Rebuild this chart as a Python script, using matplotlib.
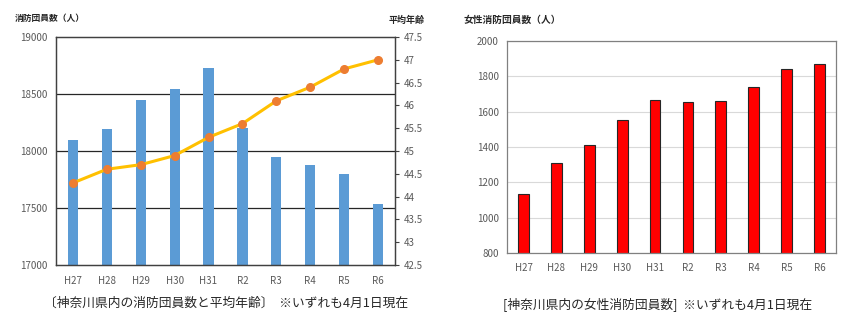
import matplotlib
matplotlib.use("Agg")
import numpy as np
import matplotlib.pyplot as plt

plt.rcParams['font.family'] = ['Noto Sans CJK JP', 'DejaVu Sans']

# %% Data
years = ['H27', 'H28', 'H29', 'H30', 'H31', 'R2', 'R3', 'R4', 'R5', 'R6']
members = [18100, 18190, 18450, 18545, 18730, 18200, 17950, 17880, 17800, 17535]
avg_age = [44.3, 44.6, 44.7, 44.9, 45.3, 45.6, 46.1, 46.4, 46.8, 47.0]
female = [1135, 1310, 1412, 1555, 1665, 1655, 1660, 1742, 1842, 1870]

W, H = 858, 332
fig = plt.figure(figsize=(W/100, H/100), dpi=100)


def box(x0, y0, x1, y1):
    # pixel box -> figure fraction
    return [x0/W, 1 - y1/H, (x1-x0)/W, (y1-y0)/H]


grey = '#595959'
x = np.arange(len(years))

# %% Left chart
ax1 = fig.add_axes(box(56, 37, 395, 265))
ax1.bar(x, members, width=0.3, color='#5B9BD5', zorder=2)
ax1.set_ylim(17000, 19000)
ax1.set_xlim(-0.5, len(years)-0.5)
ax1.set_yticks([17000, 17500, 18000, 18500, 19000])
ax1.set_xticks(x)
ax1.set_xticklabels(years)
for yv in [17500, 18000, 18500]:
    ax1.axhline(yv, color='#262626', lw=0.9, zorder=1)
for s in ax1.spines.values():
    s.set_color('#404040')
    s.set_linewidth(0.9)
ax1.tick_params(axis='both', length=0, labelsize=7, colors=grey, pad=6)
ax1.tick_params(axis='x', pad=8)

ax2 = ax1.twinx()
ax2.plot(x, avg_age, color='#FFC000', lw=2.2, marker='o', ms=5.5,
         mfc='#ED7D31', mec='#ED7D31', zorder=3)
ax2.set_ylim(42.5, 47.5)
ax2.set_yticks(np.arange(42.5, 47.6, 0.5))
ax2.set_yticklabels([f'{v:g}' for v in np.arange(42.5, 47.6, 0.5)])
ax2.tick_params(axis='y', length=3, labelsize=7, colors=grey, pad=3)
ax2.tick_params(axis='y', color='#404040')
for s in ax2.spines.values():
    s.set_color('#404040')
    s.set_linewidth(0.9)

fig.text(15/W, 1 - 18/H, '消防団員数（人）', fontsize=6.3, color='#262626',
         va='center', ha='left', fontweight='bold')
fig.text(389/W, 1 - 20/H, '平均年齢', fontsize=6.5, color='#262626',
         va='center', ha='left', fontweight='bold')
fig.text(226/W, 1 - 303/H, '〔神奈川県内の消防団員数と平均年齢〕  ※いずれも4月1日現在',
         fontsize=9.2, color='#262626', va='center', ha='center')

# %% Right chart
ax3 = fig.add_axes(box(507, 41, 836, 253))
ax3.bar(x, female, width=0.33, color='#FF0000', edgecolor='#262626',
        linewidth=0.8, zorder=2)
ax3.set_ylim(800, 2000)
ax3.set_xlim(-0.5, len(years)-0.5)
ax3.set_yticks(np.arange(800, 2001, 200))
ax3.set_xticks(x)
ax3.set_xticklabels(years)
ax3.grid(axis='y', color='#D9D9D9', lw=0.8, zorder=0)
for s in ax3.spines.values():
    s.set_color('#808080')
    s.set_linewidth(0.9)
ax3.tick_params(axis='both', length=0, labelsize=7, colors=grey, pad=6)
ax3.tick_params(axis='x', pad=7)

fig.text(464/W, 1 - 20/H, '女性消防団員数（人）', fontsize=7, color='#262626',
         va='center', ha='left', fontweight='bold')
fig.text(658/W, 1 - 304/H, '[神奈川県内の女性消防団員数]  ※いずれも4月1日現在',
         fontsize=9.2, color='#262626', va='center', ha='center')

fig.savefig('out.png', dpi=100)
